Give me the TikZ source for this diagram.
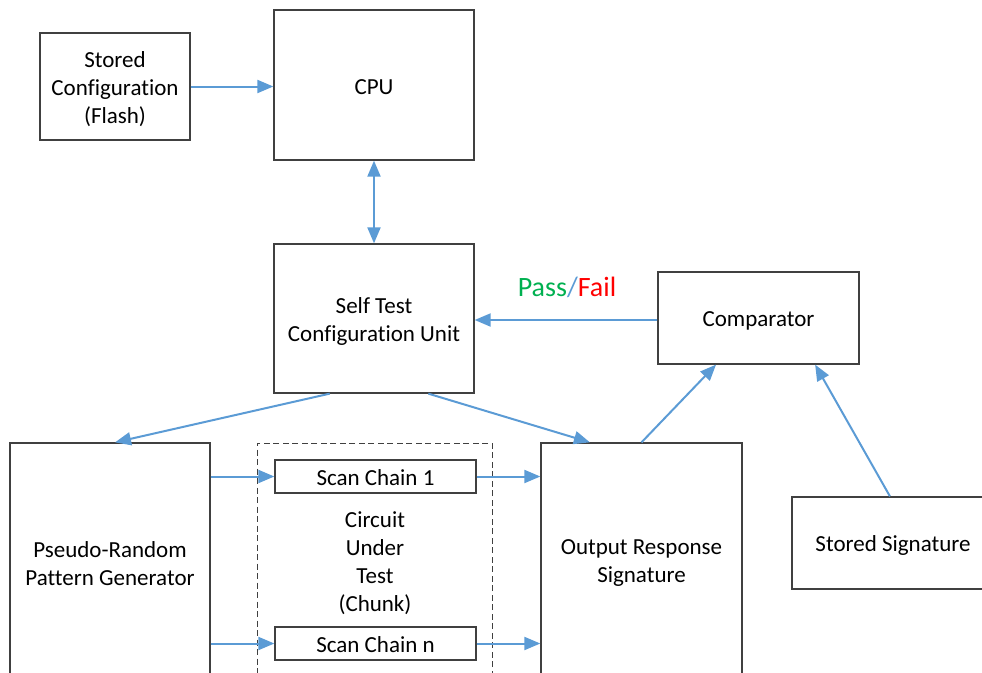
\documentclass[tikz,border=0pt]{standalone}
\usepackage{fontspec}
\setmainfont{Carlito}[Ligatures={NoCommon}]
\usetikzlibrary{arrows.meta,calc}
\definecolor{linkblue}{HTML}{5B9BD5}
\definecolor{boxgray}{HTML}{404040}
\definecolor{passgreen}{HTML}{00B050}
\definecolor{failred}{HTML}{FF0000}
\begin{document}
\begin{tikzpicture}[x=1pt,y=-1pt,
  font=\fontsize{23}{28}\selectfont,
  block/.style={draw=boxgray,line width=1.3pt,fill=white,inner sep=0pt,
    minimum width=#1},
  block/.default=200pt,
  link/.style={draw=linkblue,line width=2pt,-{Triangle[length=16pt,width=13pt]}},
  duallink/.style={draw=linkblue,line width=2pt,
    {Triangle[length=16pt,width=13pt]}-{Triangle[length=16pt,width=13pt]}},
  txt/.style={inner sep=0pt,align=center,yshift=-2.5pt}]
  \useasboundingbox (0,0) rectangle (982,672);
  \clip (0,0) rectangle (982,672);

  % top row
  \node[block=150pt,minimum height=107pt] (cfg) at (115,86.5) {};
  \node[txt] (cfgtxt) at (cfg.center) {Stored\\Configuration\\(Flash)};
  \node[block,minimum height=150pt] (cpu) at (374,85) {};
  \node[txt] (cputxt) at (cpu.center) {CPU};

  % control row
  \node[block,minimum height=149pt] (stc) at (374,318.5) {};
  \node[txt] (stctxt) at (stc.center) {Self Test\\Configuration Unit};
  \node[block=201pt,minimum height=92pt] (cmp) at (758.5,318) {};
  \node[txt] (cmptxt) at (cmp.center) {Comparator};
  \node[txt,font=\fontsize{28}{32}\selectfont] (pf) at (567,285)
    {\textcolor{passgreen}{Pass}\textcolor{linkblue}{/}\textcolor{failred}{Fail}};

  % lower row (runs past the bottom edge)
  \node[block,minimum height=236pt] (prpg) at (110,561) {};
  \node[txt] (prpgtxt) at (prpg.center) {Pseudo-Random\\Pattern Generator};
  \node[draw=boxgray,dash pattern=on 6pt off 3.5pt,line width=1pt,inner sep=0pt,
    minimum width=235pt,minimum height=236pt] (cut) at (374.5,561) {};
  \node[txt] (cuttxt) at (375,561) {Circuit\\Under\\Test\\(Chunk)};
  \node[block=201pt,minimum height=33pt] (sc1) at (375.5,476.5) {};
  \node[txt] (sc1txt) at ([yshift=1pt]sc1.center) {Scan Chain 1};
  \node[block=201pt,minimum height=33pt] (scn) at (375.5,643.5) {};
  \node[txt] (scntxt) at ([yshift=1pt]scn.center) {Scan Chain n};
  \node[block=201pt,minimum height=236pt] (ors) at (641.5,561) {};
  \node[txt] (orstxt) at (ors.center) {Output Response\\Signature};
  \node[block=202pt,minimum height=92pt] (ssig) at (893,543) {};
  \node[txt] (ssigtxt) at (ssig.center) {Stored Signature};

  % connectors
  \draw[link] (cfg.east) -- (cfg.east -| cpu.west);
  \draw[duallink] (cpu.south) -- (stc.north);
  \draw[link] (cmp.west |- 0,320) -- (stc.east |- 0,320);
  \draw[link] ($(stc.south west)!0.28!(stc.south east)$)
    -- ($(prpg.north west)!0.525!(prpg.north east)$);
  \draw[link] ($(stc.south west)!0.77!(stc.south east)$)
    -- ($(ors.north west)!0.245!(ors.north east)$);
  \draw[link] (ors.north) -- ($(cmp.south west)!0.29!(cmp.south east)$);
  \draw[link] ($(ssig.north west)!0.485!(ssig.north east)$)
    -- ($(cmp.south west)!0.78!(cmp.south east)$);
  \draw[link] (prpg.east |- sc1.west) -- (sc1.west);
  \draw[link] (prpg.east |- scn.west) -- (scn.west);
  \draw[link] (sc1.east) -- (sc1.east -| ors.west);
  \draw[link] (scn.east) -- (scn.east -| ors.west);
\end{tikzpicture}
\end{document}
